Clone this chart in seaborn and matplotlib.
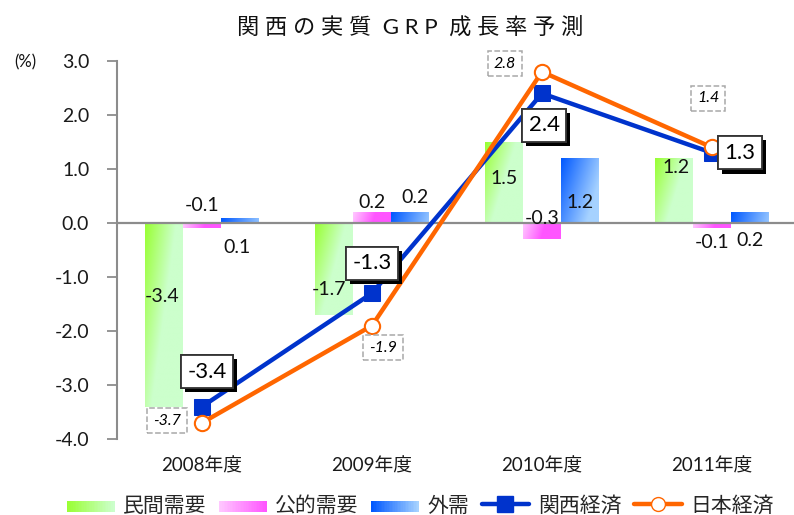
import numpy as np
import pandas as pd
import matplotlib
matplotlib.use("Agg")
import matplotlib.pyplot as plt
import seaborn as sns
from matplotlib import patheffects
from matplotlib.colors import to_rgb
from matplotlib.legend_handler import HandlerBase
from matplotlib.patches import Rectangle
from matplotlib.lines import Line2D

# data
years = ["2008年度", "2009年度", "2010年度", "2011年度"]
bar_names = ["民間需要", "公的需要", "外需"]
private_demand = [-3.4, -1.7, 1.5, 1.2]
public_demand = [-0.1, 0.2, -0.3, -0.1]
external_demand = [0.1, 0.2, 1.2, 0.2]
line_names = ["関西経済", "日本経済"]
kansai = [-3.4, -1.3, 2.4, 1.3]
japan = [-3.7, -1.9, 2.8, 1.4]
yticks = [3.0, 2.0, 1.0, 0.0, -1.0, -2.0, -3.0, -4.0]

# label offsets in pixels (dx, dy) from the end of each mark
bar_label_off = [
    [(-2, 110), (-5, 25), (0, -36), (2, -9)],
    [(0, 23), (0, 10), (0, 21), (0, -14)],
    [(-3, -30), (5, 15), (0, -44), (0, -28)],
]
kansai_off = [(5, 35), (0, 30), (2, -32), (28, 0)]
japan_off = [(-35, 2), (11, -22), (-37, 8), (-4, 49)]

# gradient colours: top-left -> bottom-right
grads = [("#99ff33", "#ccffcc", 1.6), ("#ffc8ff", "#ff55ff", 2.2), ("#0058ff", "#a6d2ff", 1.1)]
blue = "#0033cc"
orange = "#ff6600"

df = pd.DataFrame({
    "year": years * 3,
    "series": sum([[n] * 4 for n in bar_names], []),
    "value": private_demand + public_demand + external_demand,
})

sns.set_theme(style="white")
plt.rcParams["font.family"] = ["Lato", "Noto Sans CJK JP"]

fig = plt.figure(figsize=(7.94, 5.15), dpi=100)
ax = fig.add_axes([117 / 794, 76 / 515, 680 / 794, 378 / 515])

sns.barplot(data=df, x="year", y="value", hue="series", order=years, hue_order=bar_names,
            width=0.665, saturation=1, palette=[g[1] for g in grads], legend=False, ax=ax)


def blend(c0, c1, t):
    a, b = np.array(to_rgb(c0)), np.array(to_rgb(c1))
    return a * (1 - t) + b * t


for cont, (c0, c1, k) in zip(ax.containers, grads):
    for bar in cont:
        x0, w = bar.get_x(), bar.get_width()
        y0, h = bar.get_y(), bar.get_height()
        lo, hi = min(y0, y0 + h), max(y0, y0 + h)
        u = np.linspace(0, 1, 40)[None, :]
        v = np.linspace(0, 1, 80)[:, None] * min(1.0, (hi - lo) / 1.5)
        t = np.clip((u * 0.75 + v * 0.5) * k, 0, 1)
        img = blend(c0, c1, t[..., None])
        im = ax.imshow(img, extent=[x0, x0 + w, lo, hi], origin="upper", aspect="auto",
                       interpolation="bilinear", zorder=1.2)
        im.set_clip_path(bar)
        bar.set_facecolor("none")
        bar.set_edgecolor("none")

ax.axhline(0, color="#8c8c8c", lw=1.6, zorder=2)

xs = np.arange(len(years))
sns.lineplot(x=xs, y=kansai, ax=ax, color=blue, lw=3.2, marker="s", markersize=12,
             markeredgecolor=blue, zorder=4)
sns.lineplot(x=xs, y=japan, ax=ax, color=orange, lw=3.2, marker="o", markersize=11,
             markerfacecolor="white", markeredgecolor=orange, markeredgewidth=1.5, zorder=5)

px = 0.72
# bar value labels
for cont, vals, offs in zip(ax.containers, [private_demand, public_demand, external_demand], bar_label_off):
    for bar, v, (dx, dy) in zip(cont, vals, offs):
        ax.annotate(f"{v:.1f}", xy=(bar.get_x() + bar.get_width() / 2, v),
                    xytext=(dx * px, dy * px), textcoords="offset points",
                    ha="center", va="center", fontsize=14, color="#111", zorder=6)

# kansai labels: white box with black drop shadow
for x, v, (dx, dy) in zip(xs, kansai, kansai_off):
    ann = ax.annotate(f"{v:.1f}", xy=(x, v), xytext=(dx * px, dy * px),
                      textcoords="offset points", ha="center", va="center", fontsize=16,
                      color="black",
                      bbox=dict(boxstyle="square,pad=0.3", fc="white", ec="#333333", lw=1.3),
                      zorder=8)
    ann.get_bbox_patch().set_path_effects([
        patheffects.withSimplePatchShadow(offset=(3, -3), shadow_rgbFace="black", alpha=1.0),
        patheffects.Normal(),
    ])

# japan labels: italic in dashed grey box
for x, v, (dx, dy) in zip(xs, japan, japan_off):
    ax.annotate(f"{v:.1f}", xy=(x, v), xytext=(dx * px, dy * px),
                textcoords="offset points", ha="center", va="center", fontsize=11.5,
                style="italic", color="black",
                bbox=dict(boxstyle="square,pad=0.35", fc="white", ec="#a8a8a8", lw=1.1, ls="--"),
                zorder=8)

ax.set_xlim(-0.5, 3.5)
ax.set_ylim(-4.0, 3.0)
ax.set_yticks(yticks)
ax.set_yticklabels([f"{t:.1f}" for t in yticks])
ax.set_xlabel("")
ax.set_ylabel("")
ax.tick_params(axis="y", left=True, length=7, width=1.3, color="#8c8c8c", pad=13,
               labelsize=14, labelcolor="#1a1a1a")
ax.tick_params(axis="x", bottom=False, length=0, pad=13, labelsize=13.5, labelcolor="#1a1a1a")
for s in ["top", "right", "bottom"]:
    ax.spines[s].set_visible(False)
ax.spines["left"].set_color("#8c8c8c")
ax.spines["left"].set_linewidth(1.5)

fig.text(0.516, 1 - 27 / 515, "関 西 の 実 質  G R P  成 長 率 予 測", ha="center", va="center",
         fontsize=16, color="#111")
fig.text(25 / 794, 1 - 62 / 515, "(%)", ha="center", va="center", fontsize=12, color="#111")


class GradientHandler(HandlerBase):
    def __init__(self, c0, c1):
        super().__init__()
        self.c0, self.c1 = c0, c1

    def create_artists(self, legend, orig_handle, xdescent, ydescent, width, height, fontsize, trans):
        n = 30
        arts = []
        for i in range(n):
            col = blend(self.c0, self.c1, i / (n - 1))
            arts.append(Rectangle((-xdescent + width * i / n, -ydescent),
                                  width / n * 1.1, height * 0.75, fc=col, ec="none", transform=trans))
        return arts


bar_handles = [Rectangle((0, 0), 1, 1, label=n) for n in bar_names]
line_handles = [
    Line2D([], [], color=blue, lw=3.2, marker="s", markersize=11, label=line_names[0]),
    Line2D([], [], color=orange, lw=3.2, marker="o", markersize=10, markerfacecolor="white",
           markeredgecolor=orange, label=line_names[1]),
]
hmap = {h: GradientHandler(g[0], g[1]) for h, g in zip(bar_handles, grads)}
fig.legend(handles=bar_handles + line_handles, handler_map=hmap, loc="center",
           bbox_to_anchor=(0.529, 0.018), ncol=5, frameon=False, fontsize=15,
           handlelength=2.3, handletextpad=0.4, columnspacing=0.6)

fig.savefig("out.png", dpi=100)
